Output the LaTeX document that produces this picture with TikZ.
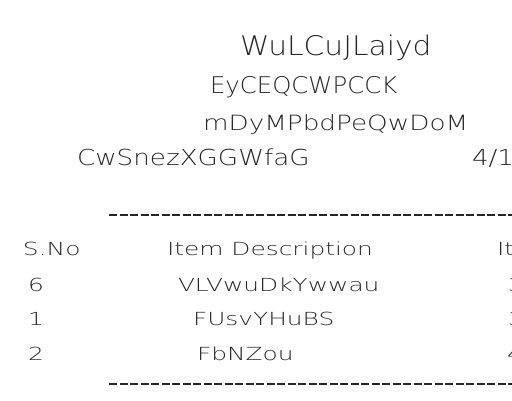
\documentclass[tikz,border=0pt]{standalone}
\usepackage{fontspec}
\setmainfont{DejaVu Sans ExtraLight}
\newfontfamily\fA[FakeStretch=1.10]{DejaVu Sans ExtraLight}
\newfontfamily\fB[FakeStretch=1.06]{DejaVu Sans ExtraLight}
\newfontfamily\fC[FakeStretch=1.25]{DejaVu Sans ExtraLight}
\newfontfamily\fD[FakeStretch=1.19]{DejaVu Sans ExtraLight}
\newfontfamily\fT[FakeStretch=1.38]{DejaVu Sans ExtraLight}
\begin{document}
\begin{tikzpicture}[x=1pt,y=-1pt,
  txt/.style={anchor=base west,inner sep=0pt,outer sep=0pt,text=black!85},
  tA/.style={txt,font=\fA\fontsize{27}{30}\selectfont},
  tB/.style={txt,font=\fB\fontsize{23}{26}\selectfont},
  tC/.style={txt,font=\fC\fontsize{21}{24}\selectfont},
  tD/.style={txt,font=\fD\fontsize{22}{25}\selectfont},
  tT/.style={txt,font=\fT\fontsize{18}{21}\selectfont},
  rule/.style={draw=black!85,line width=1.3pt,dash pattern=on 8pt off 2.5pt}]
\useasboundingbox (0,0) rectangle (512,400);
\clip (0,0) rectangle (512,400);
\node[tA] (title) at (240,55) {WuLCuJLaiyd};
\node[tB] (l2) at (210,93) {EyCEQCWPCCK};
\node[tC] (l3) at (203,130) {mDyMPbdPeQwDoM};
\node[tD] (l4) at (77,165) {CwSnezXGGWfaG};
\node[tD] (date) at (472,165) {4/10};
\coordinate (r1a) at (109,215);
\coordinate (r1b) at (520,215);
\draw[rule] (r1a) -- (r1b);
\node[tT] (h1) at (23,255) {S.No};
\node[tT] (h2) at (167,255) {Item Description};
\node[tT] (h3) at (497,255) {It};
\node[tT] (n1) at (28,291) {6};
\node[tT] (d1) at (178,291) {VLVwuDkYwwau};
\node[tT] (p1) at (508,291) {3};
\node[tT] (n2) at (28,325) {1};
\node[tT] (d2) at (193,325) {FUsvYHuBS};
\node[tT] (p2) at (508,325) {3};
\node[tT] (n3) at (28,360) {2};
\node[tT] (d3) at (197,360) {FbNZou};
\node[tT] (p3) at (507,360) {4};
\coordinate (r2a) at (109,384);
\coordinate (r2b) at (520,384);
\draw[rule] (r2a) -- (r2b);
\end{tikzpicture}
\end{document}
